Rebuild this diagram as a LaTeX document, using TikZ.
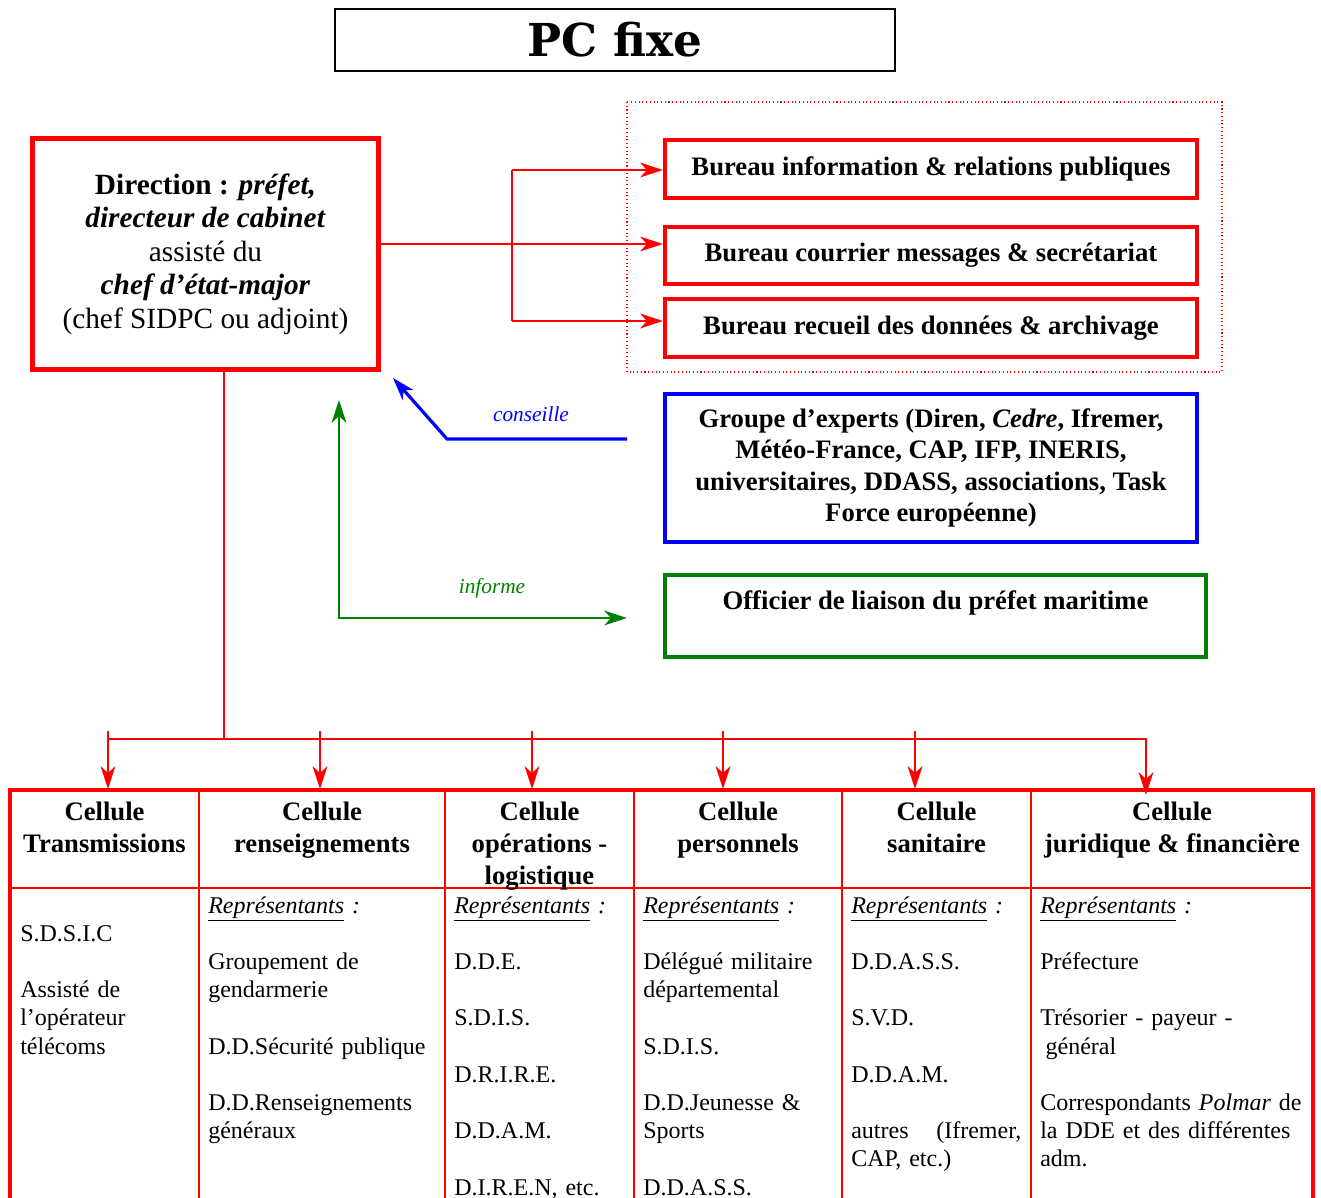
\documentclass[tikz,border=0pt]{standalone}
\usepackage{fontspec}
\setmainfont{Liberation Serif}
\newfontfamily\titlefont{DejaVu Serif}
\usetikzlibrary{arrows.meta}
\definecolor{pcred}{RGB}{255,0,0}
\definecolor{pcblue}{RGB}{0,0,255}
\definecolor{pcgreen}{RGB}{0,128,0}
\newlength{\blankskip}\setlength{\blankskip}{21.15pt}
\newcommand{\rep}{\underline{\textit{Représentants}}\textit{ :}}

\begin{document}
\begin{tikzpicture}[x=0.75pt,y=-0.75pt,
  redline/.style={draw=pcred,line width=2.2pt},
  redarr/.style={redline,-{Stealth[length=17pt,width=11pt,inset=5pt]}},
  dirbox/.style={draw=pcred,line width=3.75pt,minimum width=260pt,minimum height=172.5pt,align=center,font=\fontsize{22}{25.1}\selectfont},
  burbox/.style={draw=pcred,line width=3pt,minimum width=399pt,minimum height=43pt,font=\fontsize{20}{24}\selectfont\bfseries},
  expbox/.style={draw=pcblue,line width=3pt,minimum width=399pt,minimum height=111pt,align=center,font=\fontsize{20}{23.5}\selectfont\bfseries},
  offbox/.style={draw=pcgreen,line width=3pt,minimum width=405.75pt,minimum height=61.5pt,align=center,font=\fontsize{20}{24}\selectfont\bfseries},
  cellhead/.style={anchor=north,inner sep=0pt,align=center,font=\fontsize{20}{24}\selectfont\bfseries},
  cellbody/.style={anchor=north west,inner sep=0pt,align=left,font=\fontsize{18}{21.15}\selectfont},
  linklabel/.style={font=\fontsize{16}{19}\selectfont\itshape}
]
\useasboundingbox (0,0) rectangle (1321,1198);

% title
\node[draw,line width=1.2pt,minimum width=420pt,minimum height=46.5pt,font=\titlefont\bfseries\fontsize{34}{40}\selectfont] (title) at (615,40) {PC fixe};

% direction and bureaus
\node[dirbox] (dir) at (205.5,254) {\textbf{Direction : \textit{préfet,}}\\ \textbf{\textit{directeur de cabinet}}\\ assisté du\\ \textbf{\textit{chef d’état-major}}\\ (chef SIDPC ou adjoint)};
\draw[pcred,dotted,line width=0.8pt] (627,102) rectangle (1222,372);
\node[burbox] (bur1) at (931,169) {Bureau information \& relations publiques};
\node[burbox] (bur2) at (931,255.5) {Bureau courrier messages \& secrétariat};
\node[burbox] (bur3) at (931,328) {Bureau recueil des données \& archivage};

\coordinate (fork) at (512,244);
\coordinate (fork-top) at (512,170);
\coordinate (fork-bot) at (512,321);
\draw[redarr] (dir.east |- fork) -- (bur2.west |- fork);
\draw[redline] (fork-top) -- (fork-bot);
\draw[redarr] (fork-top) -- (bur1.west |- fork-top);
\draw[redarr] (fork-bot) -- (bur3.west |- fork-bot);

% experts and liaison
\node[expbox] (exp) at (931,468) {Groupe d’experts (Diren, \textit{Cedre}, Ifremer,\\ Météo-France, CAP, IFP, INERIS,\\ universitaires, DDASS, associations, Task\\ Force européenne)};
\node[offbox] (off) at (935.5,616) {Officier de liaison du préfet maritime\\ \mbox{}};

\coordinate (cons-start) at (627,439);
\coordinate (cons-bend) at (447,439);
\coordinate (cons-tip) at (393,378);
\draw[draw=pcblue,line width=2.4pt,-{Stealth[length=17pt,width=11pt,inset=5pt]}] (cons-start) -- (cons-bend) -- (cons-tip);
\node[linklabel,text=pcblue] (cons-lbl) at (531,414) {conseille};

\coordinate (inf-tip) at (339,400);
\coordinate (inf-bend) at (339,618);
\coordinate (inf-end) at (627,618);
\draw[draw=pcgreen,line width=2.2pt,{Stealth[length=17pt,width=11pt,inset=5pt]}-{Stealth[length=17pt,width=11pt,inset=5pt]}] (inf-tip) -- (inf-bend) -- (inf-end);
\node[linklabel,text=pcgreen] (inf-lbl) at (492,588) {informe};

% cells
\coordinate (bus) at (224,739);
\coordinate (bus-w) at (108,739);
\coordinate (bus-e) at (1146,739);
\coordinate (tip6) at (1146,795);
\draw[redline] (dir.south -| bus) -- (bus);
\draw[redarr] (bus-w) -- (bus-e) -- (tip6);
\foreach \x [count=\i] in {108,320,532,723,915} {
  \coordinate (drop\i) at (\x,731);
  \coordinate (tip\i) at (\x,789);
  \draw[redarr] (drop\i) -- (tip\i);
}

\draw[pcred,line width=3pt] (10,1210) -- (10,790) -- (1313,790) -- (1313,1210);
\draw[pcred,line width=1.5pt] (10,888) -- (1313,888);
\foreach \x in {199,445,634,842,1031}
  \draw[pcred,line width=1.5pt] (\x,790) -- (\x,1210);

\node[cellhead] (h1) at (104.5,798) {\strut Cellule\\ Transmissions};
\node[cellhead] (h2) at (322,798) {\strut Cellule\\ renseignements};
\node[cellhead] (h3) at (539.5,798) {\strut Cellule\\ opérations -\\ logistique};
\node[cellhead] (h4) at (738,798) {\strut Cellule\\ personnels};
\node[cellhead] (h5) at (936.5,798) {\strut Cellule\\ sanitaire};
\node[cellhead] (h6) at (1172,798) {\strut Cellule\\ juridique \& financière};

\node[cellbody,text width=127.5pt] (b1) at (20,893) {\strut\\ S.D.S.I.C\\[\blankskip] Assisté de\\ l’opérateur\\ télécoms};
\node[cellbody,text width=171pt] (b2) at (208,893) {\strut\rep\\[\blankskip] Groupement de\\ gendarmerie\\[\blankskip] D.D.Sécurité publique\\[\blankskip] D.D.Renseignements\\ généraux};
\node[cellbody,text width=128pt] (b3) at (454,893) {\strut\rep\\[\blankskip] D.D.E.\\[\blankskip] S.D.I.S.\\[\blankskip] D.R.I.R.E.\\[\blankskip] D.D.A.M.\\[\blankskip] D.I.R.E.N, etc.};
\node[cellbody,text width=142.5pt] (b4) at (643,893) {\strut\rep\\[\blankskip] Délégué militaire\\ départemental\\[\blankskip] S.D.I.S.\\[\blankskip] D.D.Jeunesse \&\\ Sports\\[\blankskip] D.D.A.S.S.};
\node[cellbody,text width=127.5pt] (b5) at (851,893) {\strut\rep\\[\blankskip] D.D.A.S.S.\\[\blankskip] S.V.D.\\[\blankskip] D.D.A.M.\\[\blankskip] autres\hfill(Ifremer,\\ CAP, etc.)};
\node[cellbody,text width=198pt] (b6) at (1040,893) {\strut\rep\\[\blankskip] Préfecture\\[\blankskip] Trésorier - payeur -\\ \hspace*{4pt}général\\[\blankskip] Correspondants \textit{Polmar} de\\ la DDE et des différentes\\ adm.};
\end{tikzpicture}
\end{document}
